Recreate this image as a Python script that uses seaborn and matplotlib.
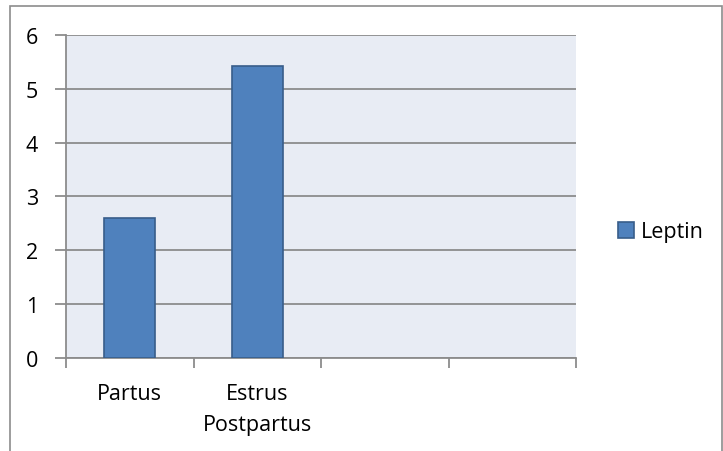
import matplotlib
matplotlib.use("Agg")
import matplotlib.pyplot as plt
from matplotlib.patches import Rectangle
import numpy as np
import pandas as pd
import seaborn as sns

categories = ["Partus", "Estrus\nPostpartus", " ", "  "]
leptin = [2.6, 5.43, np.nan, np.nan]
y_ticks = [0, 1, 2, 3, 4, 5, 6]

df = pd.DataFrame({"stage": categories, "Leptin": leptin})

sns.set_theme(style="white", rc={"xtick.bottom": True, "ytick.left": True,
                                 "text.color": "black",
                                 "xtick.labelcolor": "black",
                                 "ytick.labelcolor": "black"})
plt.rcParams["font.family"] = ["Open Sans", "DejaVu Sans"]
FS = 15.5

fig = plt.figure(figsize=(7.23, 4.52), dpi=100)
ax = fig.add_axes([0.0913, 0.2058, 0.7054, 0.7146])
ax.set_facecolor("#E8ECF4")

sns.barplot(data=df, x="stage", y="Leptin", order=categories, ax=ax,
            color="#4F81BD", edgecolor="#385D8A", linewidth=1.2,
            width=0.4, saturation=1, label="Leptin", zorder=3)

ax.set_xlim(-0.5, len(categories) - 0.5)
ax.set_ylim(0, 6)
ax.set_yticks(y_ticks)
ax.set_yticklabels([str(v) for v in y_ticks], fontsize=FS)
ax.yaxis.grid(True, color="#8C8C8C", linewidth=1.3, zorder=0)
ax.set_axisbelow(True)

# category labels centred, tick marks on category boundaries
ax.set_xticks(range(len(categories)))
ax.set_xticklabels(categories, fontsize=FS, linespacing=1.6)
ax.tick_params(axis="x", which="major", length=0, pad=18)
ax.set_xticks(np.arange(-0.5, len(categories), 1.0), minor=True)
ax.tick_params(axis="x", which="minor", bottom=True, length=7, width=1.3,
               color="#8C8C8C", direction="out")
ax.tick_params(axis="y", which="major", left=True, length=8, width=1.3,
               color="#8C8C8C", direction="out", pad=12)

ax.set_xlabel("")
ax.set_ylabel("")
for side in ["top", "right"]:
    ax.spines[side].set_visible(False)
for side in ["left", "bottom"]:
    ax.spines[side].set_color("#8C8C8C")
    ax.spines[side].set_linewidth(1.3)

handles, labels = ax.get_legend_handles_labels()
if ax.get_legend():
    ax.get_legend().remove()
fig.legend(handles[:1], labels[:1], loc="center left",
           bbox_to_anchor=(0.855, 0.485), frameon=False, fontsize=FS,
           handlelength=0.75, handleheight=0.75, handletextpad=0.3,
           borderpad=0, borderaxespad=0)

# chart frame
fig.patches.append(Rectangle((10 / 723, -0.01), 711.5 / 723, 1 - 7 / 452 + 0.01,
                             transform=fig.transFigure, fill=False,
                             edgecolor="#8C8C8C", linewidth=1.2))

fig.savefig("out.png", dpi=100)
